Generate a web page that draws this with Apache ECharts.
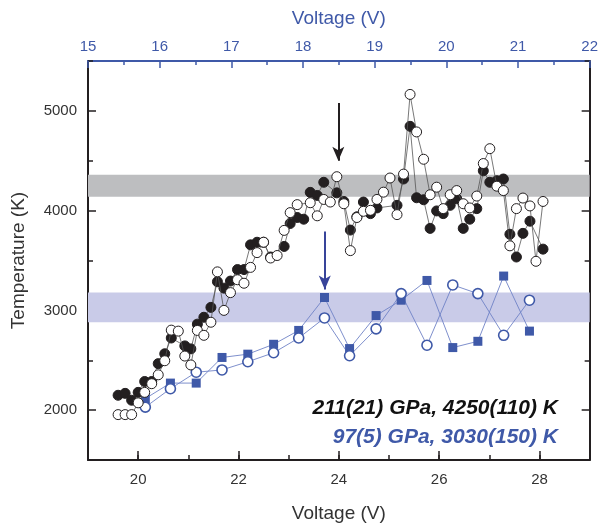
<!DOCTYPE html>
<html>
<head>
<meta charset="utf-8">
<script src="https://cdn.jsdelivr.net/npm/echarts@6/dist/echarts.min.js"></script>
<style>
  html, body { margin: 0; padding: 0; background: #fff; }
  #chart { width: 601px; height: 528px; }
</style>
</head>
<body>
<div id="chart"></div>
<script>
// voltage grid (bottom axis) shared by the two black data sets
var vBlack = [19.60, 19.74, 19.87, 20.00, 20.13, 20.27, 20.40, 20.53, 20.66, 20.80,
              20.93, 21.05, 21.18, 21.31, 21.45, 21.58, 21.71, 21.84, 21.98, 22.11,
              22.24, 22.37, 22.50, 22.64, 22.77, 22.91, 23.03, 23.17, 23.30, 23.43,
              23.57, 23.70, 23.83, 23.96, 24.10, 24.23, 24.36, 24.49, 24.63, 24.76,
              24.89, 25.02, 25.16, 25.29, 25.42, 25.55, 25.69, 25.82, 25.95, 26.08,
              26.22, 26.35, 26.48, 26.61, 26.75, 26.88, 27.01, 27.15, 27.28, 27.41,
              27.54, 27.67, 27.81, 27.93, 28.07];
var tBlackFilled = [2149, 2168, 2099, 2178, 2287, 2287, 2466, 2565, 2723, null,
                    2644, 2614, 2862, 2931, 3030, 3287, 3223, 3294, 3409, 3409,
                    3657, 3683, 3683, 3535, null, 3641, 3871, 3931, 3914, 4183,
                    4152, 4284, null, 4178, 4092, 3805, 3938, 4086, 3970, 4027,
                    null, null, 4053, 4317, 4845, 4129, 4109, 3822, 3997, 3970,
                    4053, 4119, 3822, 3914, 4020, 4399, 4284, 4300, 4317, 3763,
                    3535, 3772, 3894, null, 3614];
var tBlackOpen = [1955, 1955, 1955, 2073, 2178, 2265, 2354, 2495, 2802, 2792,
                  2542, 2453, 2799, 2750, 2881, 3386, 3000, 3178, 3307, 3272,
                  3431, 3579, 3683, 3525, 3550, 3802, 3980, 4060, null, 4079,
                  3948, 4112, 4086, 4340, 4069, 3599, 3931, 3993, 4003, 4112,
                  4185, 4327, 3960, 4366, 5165, 4789, 4515, 4159, 4235, 4020,
                  4159, 4201, 4069, 4027, 4146, 4472, 4621, 4245, 4201, 3647,
                  4020, 4126, 4047, 3492, 4092];

// blue data sets, plotted against the top voltage axis
var vBlue = [15.80, 16.15, 16.51, 16.87, 17.23, 17.59, 17.94, 18.30,
             18.65, 19.02, 19.37, 19.73, 20.09, 20.44, 20.80, 21.16];
var tBlueSquare = [2116, 2271, 2271, 2528, 2561, 2660, 2799, 3129,
                   2617, 2948, 3102, 3300, 2627, 2690, 3344, 2792];
var tBlueOpen = [2030, 2215, 2380, 2403, 2485, 2575, 2723, 2924,
                 2545, 2815, 3168, 2651, 3255, 3168, 2750, 3102];

// temperature bands (value +- error)
var bandBlack = [4140, 4360];
var bandBlue = [2880, 3180];

// arrows: [voltage, from T, to T]
var arrowBlack = [23.99, 5080, 4500];
var arrowBlue = [23.72, 3790, 3210];

// tick label lists (every tick position, labels shown on the major ones)
var xTicks = ['19', '20', '21', '22', '23', '24', '25', '26', '27', '28', '29'];
var yTicks = ['1500', '2000', '2500', '3000', '3500', '4000', '4500', '5000', '5500'];

var FONT = '"Liberation Sans", Arial, sans-serif';
var BLACK = '#231f20';
var BLUE = '#3f59a8';

function pairs(xs, ys) {
    var out = [];
    for (var i = 0; i < xs.length; i++) {
        out.push([xs[i], ys[i]]);
    }
    return out;
}
function evenV(i, v) { return (+v) % 2 === 0; }
function thousand(i, v) { return (+v) % 1000 === 0; }

// value y axis: frame line + short ticks every 500
function valueY(pos, withName) {
    var ax = {
        type: 'value', position: pos, min: 1500, max: 5500, interval: 500,
        axisLine: { show: true, lineStyle: { color: BLACK, width: 2 } },
        axisTick: { show: true, inside: true, length: 5, lineStyle: { color: BLACK, width: 1.5 } },
        axisLabel: { show: false },
        splitLine: { show: false }
    };
    if (withName) {
        ax.name = 'Temperature (K)';
        ax.nameLocation = 'middle';
        ax.nameGap = 60;
        ax.nameTextStyle = { fontSize: 19, color: '#333', fontFamily: FONT };
    }
    return ax;
}
// category overlay: long ticks + labels at thousands
function majorY(pos, withLabels) {
    return {
        type: 'category', position: pos, data: yTicks, boundaryGap: false,
        axisLine: { show: false },
        axisTick: { show: true, inside: true, length: 8, interval: thousand,
                    lineStyle: { color: BLACK, width: 1.5 } },
        axisLabel: { show: withLabels, interval: thousand, fontSize: 15, color: '#333',
                     fontFamily: FONT, margin: 11 },
        splitLine: { show: false }
    };
}

var chart = echarts.init(document.getElementById('chart'));
var option = {
    animation: false,
    backgroundColor: '#fff',
    grid: { left: 88, right: 10, top: 61, bottom: 62 },
    xAxis: [
        {
            type: 'value', position: 'bottom', min: 19, max: 29, interval: 1,
            name: 'Voltage (V)', nameLocation: 'middle', nameGap: 44,
            nameTextStyle: { fontSize: 19, color: '#333', fontFamily: FONT },
            axisLine: { show: true, lineStyle: { color: BLACK, width: 2 } },
            axisTick: { show: true, inside: true, length: 5, lineStyle: { color: BLACK, width: 1.5 } },
            axisLabel: { show: false },
            splitLine: { show: false }
        },
        {
            type: 'value', position: 'top', min: 15, max: 22, interval: 1,
            name: 'Voltage (V)', nameLocation: 'middle', nameGap: 33,
            nameTextStyle: { fontSize: 19, color: BLUE, fontFamily: FONT },
            axisLine: { show: true, lineStyle: { color: BLUE, width: 2 } },
            axisTick: { show: true, inside: true, length: 7,
                        lineStyle: { color: BLUE, width: 1.5 } },
            minorTick: { show: true, splitNumber: 2, length: 4,
                         lineStyle: { color: BLUE, width: 1.5 } },
            axisLabel: { fontSize: 15, color: BLUE, fontFamily: FONT, margin: 7 },
            splitLine: { show: false }
        },
        {
            type: 'category', position: 'bottom', data: xTicks, boundaryGap: false,
            axisLine: { show: false },
            axisTick: { show: true, inside: true, length: 9, interval: evenV,
                        lineStyle: { color: BLACK, width: 1.5 } },
            axisLabel: { interval: evenV, fontSize: 15, color: '#333', fontFamily: FONT, margin: 12 },
            splitLine: { show: false }
        }
    ],
    yAxis: [
        valueY('left', true),
        majorY('left', true),
        valueY('right', false),
        majorY('right', false)
    ],
    series: [
        {
            name: 'bands', type: 'line', data: [], z: 1,
            markArea: {
                silent: true,
                data: [
                    [{ yAxis: bandBlack[0], itemStyle: { color: '#bdbec0' } }, { yAxis: bandBlack[1] }],
                    [{ yAxis: bandBlue[0], itemStyle: { color: '#c9cbe8' } }, { yAxis: bandBlue[1] }]
                ]
            }
        },
        {
            name: 'blue squares', type: 'line', xAxisIndex: 1, yAxisIndex: 0, z: 3,
            data: pairs(vBlue, tBlueSquare),
            symbol: 'rect', symbolSize: 9,
            itemStyle: { color: BLUE },
            lineStyle: { color: '#6f82c6', width: 0.9 }
        },
        {
            name: 'blue open', type: 'line', xAxisIndex: 1, yAxisIndex: 0, z: 3,
            data: pairs(vBlue, tBlueOpen),
            symbol: 'circle', symbolSize: 10,
            itemStyle: { color: '#fff', borderColor: BLUE, borderWidth: 1.6 },
            lineStyle: { color: '#6f82c6', width: 0.9 }
        },
        {
            name: 'black filled', type: 'line', z: 4, connectNulls: true,
            data: pairs(vBlack, tBlackFilled),
            symbol: 'circle', symbolSize: 10,
            itemStyle: { color: BLACK, borderColor: BLACK, borderWidth: 1 },
            lineStyle: { color: '#555', width: 0.8 }
        },
        {
            name: 'black open', type: 'line', z: 5, connectNulls: true,
            data: pairs(vBlack, tBlackOpen),
            symbol: 'circle', symbolSize: 10,
            itemStyle: { color: '#fff', borderColor: BLACK, borderWidth: 1 },
            lineStyle: { color: '#555', width: 0.8 }
        },
        {
            name: 'arrows', type: 'line', data: [], z: 6,
            markLine: {
                silent: true,
                symbol: ['none', 'arrow'],
                symbolSize: [9, 14],
                label: { show: false },
                data: [
                    [{ coord: [arrowBlack[0], arrowBlack[1]], lineStyle: { color: BLACK, width: 2, type: 'solid' } },
                     { coord: [arrowBlack[0], arrowBlack[2]] }],
                    [{ coord: [arrowBlue[0], arrowBlue[1]], lineStyle: { color: '#38449a', width: 2, type: 'solid' } },
                     { coord: [arrowBlue[0], arrowBlue[2]] }]
                ]
            }
        }
    ],
    graphic: [
        {
            type: 'text', right: 43, top: 398, z: 10,
            style: { text: '211(21) GPa, 4250(110) K', fill: '#111',
                     font: 'italic bold 21px ' + FONT }
        },
        {
            type: 'text', right: 43, top: 427, z: 10,
            style: { text: '97(5) GPa, 3030(150) K', fill: BLUE,
                     font: 'italic bold 21px ' + FONT }
        }
    ]
};
chart.setOption(option);
</script>
</body>
</html>
